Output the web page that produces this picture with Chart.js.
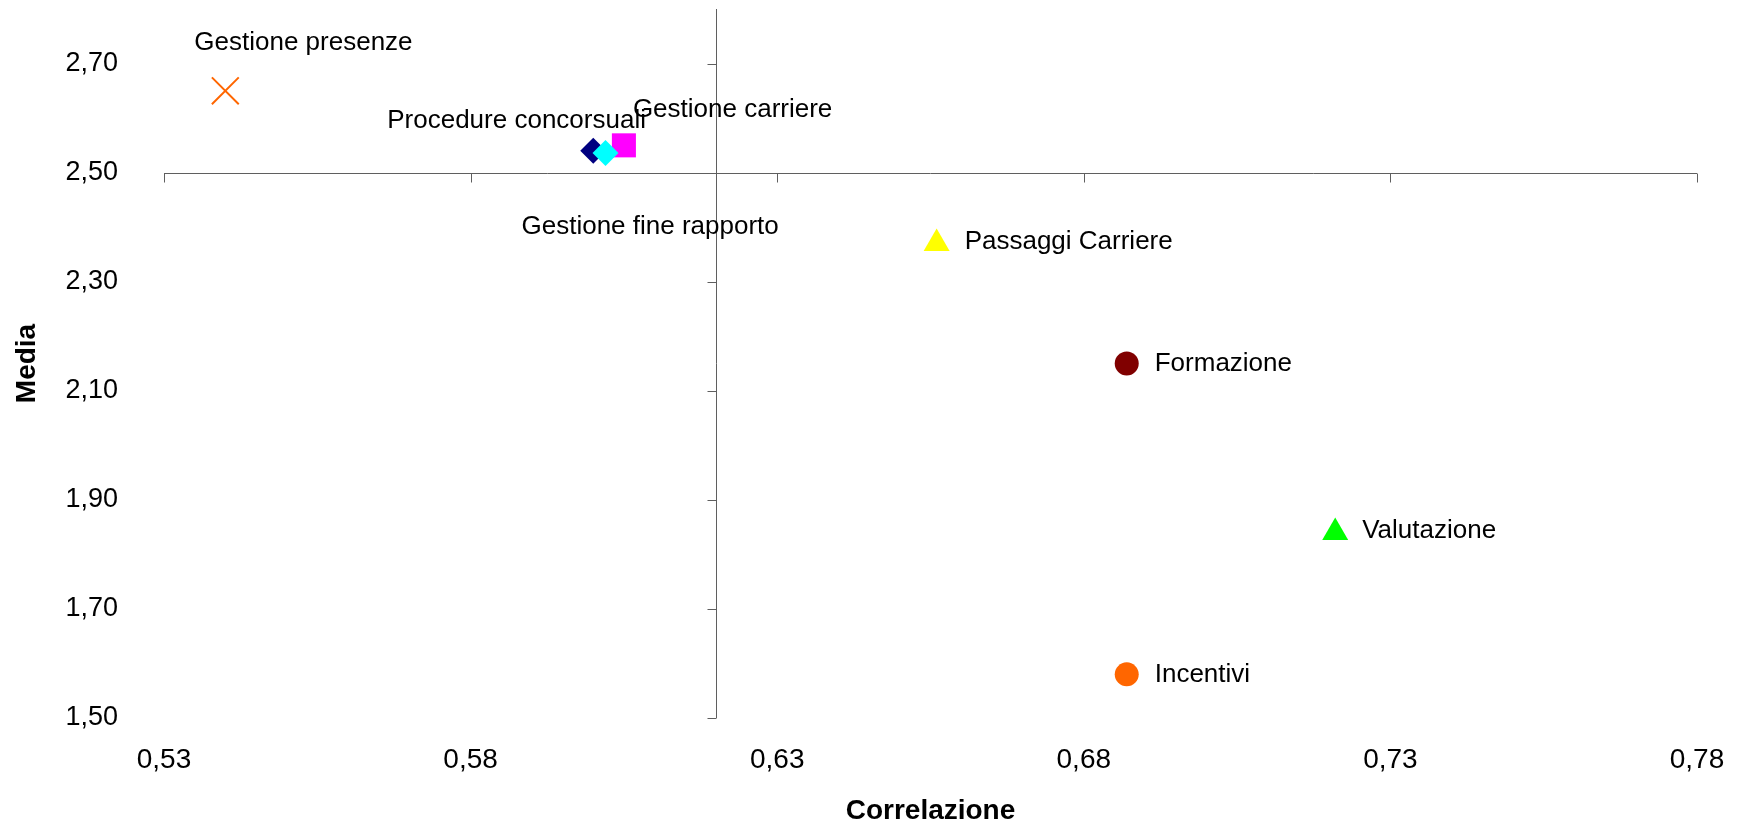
<!DOCTYPE html>
<html>
<head>
<meta charset="utf-8">
<title>Correlazione / Media</title>
<script src="https://cdn.jsdelivr.net/npm/chart.js@4.4.1/dist/chart.umd.min.js"></script>
<style>
  html, body { margin: 0; padding: 0; background: #fff; }
</style>
</head>
<body>
<canvas id="scatter" width="1739" height="828"></canvas>
<script>
// Process areas: correlation vs. average score
const categories = ['Gestione presenze', 'Procedure concorsuali', 'Gestione carriere', 'Gestione fine rapporto',
                    'Passaggi Carriere', 'Formazione', 'Valutazione', 'Incentivi'];
const correlazione = [0.540, 0.600, 0.605, 0.602, 0.656, 0.687, 0.721, 0.687];
const media = [2.65, 2.54, 2.55, 2.536, 2.37, 2.15, 1.84, 1.58];

const xTicks = [0.53, 0.58, 0.63, 0.68, 0.73, 0.78];
const yTicks = [1.50, 1.70, 1.90, 2.10, 2.30, 2.50, 2.70];
const crossX = 0.62;   // where the vertical axis crosses
const crossY = 2.50;   // where the horizontal axis crosses

// marker look per area
const markers = [
    { style: 'crossRot', color: '#FF6600', radius: 19, border: 2 },
    { style: 'rectRot',  color: '#000080', radius: 13 },
    { style: 'rect',     color: '#FF00FF', radius: 17 },
    { style: 'rectRot',  color: '#00FFFF', radius: 13 },
    { style: 'triangle', color: '#FFFF00', radius: 15 },
    { style: 'circle',   color: '#800000', radius: 12 },
    { style: 'triangle', color: '#00FF00', radius: 15 },
    { style: 'circle',   color: '#FF6600', radius: 12 }
];
// label offsets from the marker, in px (text is left aligned, vertically centred)
const labelOffsets = [[-31, -48], [-206, -30], [9, -36], [-84, 74], [28, -2], [28, 0], [27, -2], [28, 0]];

const fmt = v => v.toFixed(2).replace('.', ',');
const FONT = '"Liberation Sans", Arial, sans-serif';

const datasets = categories.map((name, i) => ({
    label: name,
    data: [{ x: correlazione[i], y: media[i] }],
    pointStyle: markers[i].style,
    pointRadius: markers[i].radius,
    pointHoverRadius: markers[i].radius,
    backgroundColor: markers[i].color,
    borderColor: markers[i].color,
    borderWidth: markers[i].border || 0,
    order: categories.length - i
}));

// axes crossing in the middle of the plot, with small tick marks
const crossAxes = {
    id: 'crossAxes',
    beforeDatasetsDraw(chart) {
        const { ctx, scales: { x, y } } = chart;
        const x0 = Math.round(x.getPixelForValue(crossX)) + 0.5;
        const y0 = Math.round(y.getPixelForValue(crossY)) + 0.5;
        ctx.save();
        ctx.strokeStyle = '#5f5f5f';
        ctx.lineWidth = 1;
        ctx.beginPath();
        ctx.moveTo(x.getPixelForValue(xTicks[0]), y0);
        ctx.lineTo(x.getPixelForValue(xTicks[xTicks.length - 1]), y0);
        ctx.moveTo(x0, y.top);
        ctx.lineTo(x0, y.getPixelForValue(yTicks[0]));
        xTicks.forEach(v => {
            const px = Math.round(x.getPixelForValue(v)) + 0.5;
            ctx.moveTo(px, y0);
            ctx.lineTo(px, y0 + 9);
        });
        yTicks.forEach(v => {
            const py = Math.round(y.getPixelForValue(v)) + 0.5;
            ctx.moveTo(x0, py);
            ctx.lineTo(x0 - 9, py);
        });
        ctx.stroke();
        ctx.restore();
    }
};

// area names next to each marker
const pointLabels = {
    id: 'pointLabels',
    afterDatasetsDraw(chart) {
        const ctx = chart.ctx;
        ctx.save();
        ctx.font = '26px ' + FONT;
        ctx.fillStyle = '#000';
        ctx.textAlign = 'left';
        ctx.textBaseline = 'middle';
        chart.data.datasets.forEach((ds, i) => {
            const pt = chart.getDatasetMeta(i).data[0];
            const [dx, dy] = labelOffsets[i];
            ctx.fillText(ds.label, pt.x + dx, pt.y + dy);
        });
        ctx.restore();
    }
};

new Chart(document.getElementById('scatter'), {
    type: 'scatter',
    data: { datasets },
    options: {
        responsive: false,
        animation: false,
        layout: { autoPadding: false, padding: { top: 9, right: 42, left: 0, bottom: 0 } },
        plugins: {
            legend: { display: false },
            tooltip: { enabled: false }
        },
        scales: {
            x: {
                type: 'linear',
                min: xTicks[0],
                max: xTicks[xTicks.length - 1],
                afterBuildTicks: s => { s.ticks = xTicks.map(v => ({ value: v })); },
                afterFit: s => { s.height = 110; s.paddingLeft = 0; s.paddingRight = 0; },
                grid: { display: false, drawTicks: false },
                border: { display: false },
                ticks: {
                    padding: 25,
                    autoSkip: false,
                    maxRotation: 0,
                    color: '#000',
                    font: { family: FONT, size: 28 },
                    callback: v => fmt(v)
                },
                title: {
                    display: true,
                    text: 'Correlazione',
                    color: '#000',
                    padding: { top: 0, bottom: 0 },
                    font: { family: FONT, size: 28, weight: 'bold' }
                }
            },
            y: {
                type: 'linear',
                min: 1.5,
                max: 2.8,
                afterBuildTicks: s => { s.ticks = yTicks.map(v => ({ value: v })); },
                afterFit: s => { s.width = 164; s.paddingTop = 0; s.paddingBottom = 0; },
                grid: { display: false, drawTicks: false },
                border: { display: false },
                ticks: {
                    padding: 46,
                    color: '#000',
                    font: { family: FONT, size: 27 },
                    callback: v => fmt(v)
                },
                title: {
                    display: true,
                    text: 'Media',
                    color: '#000',
                    padding: { top: 10, bottom: 0 },
                    font: { family: FONT, size: 28, weight: 'bold' }
                }
            }
        }
    },
    plugins: [crossAxes, pointLabels]
});
</script>
</body>
</html>
